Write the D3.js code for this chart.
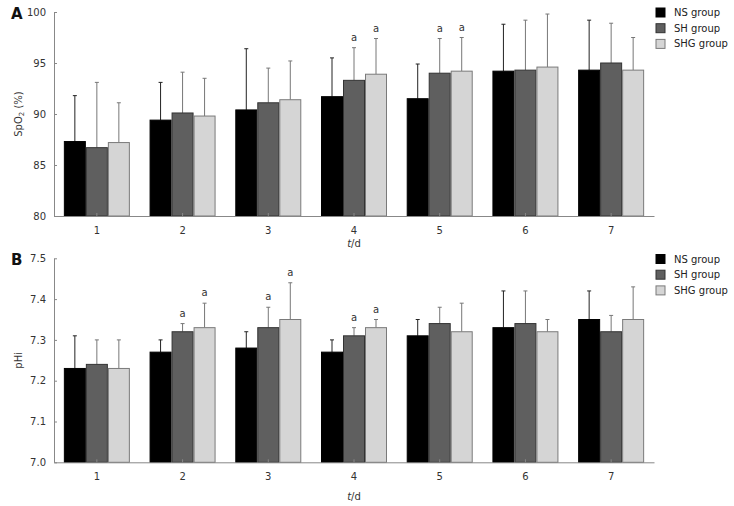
<!DOCTYPE html>
<html><head><meta charset="utf-8">
<script src="https://cdn.jsdelivr.net/npm/d3@7"></script>
<style>body{margin:0;background:#fff}svg{display:block}text{font-family:"DejaVu Sans",Verdana,sans-serif}</style>
</head><body><svg id="c" width="734" height="506"></svg>
<script>
const days = ["1","2","3","4","5","6","7"];
const groups = ["NS group","SH group","SHG group"];
const fills = ["#000000","#5f5f5f","#d5d5d5"];
const strokes = ["#000000","#333333","#7a7a7a"];
const errColors = ["#222222","#777777","#777777"];

// Panel A: SpO2 (%)
const spoNS = [87.3, 89.4, 90.4, 91.7, 91.5, 94.2, 94.3];
const spoSH = [86.7, 90.1, 91.1, 93.3, 94.0, 94.3, 95.0];
const spoSHG = [87.2, 89.8, 91.4, 93.9, 94.2, 94.6, 94.3];
const spoNSerr = [91.8, 93.1, 96.4, 95.5, 94.9, 98.8, 99.2];
const spoSHerr = [93.1, 94.1, 94.5, 96.5, 97.4, 99.2, 98.9];
const spoSHGerr = [91.1, 93.5, 95.2, 97.4, 97.5, 99.8, 97.5];
const spoSig = [[0,0,0],[0,0,0],[0,0,0],[0,1,1],[0,1,1],[0,0,0],[0,0,0]];
const spoTicks = [80, 85, 90, 95, 100];

// Panel B: pHi
const phNS = [7.23, 7.27, 7.28, 7.27, 7.31, 7.33, 7.35];
const phSH = [7.24, 7.32, 7.33, 7.31, 7.34, 7.34, 7.32];
const phSHG = [7.23, 7.33, 7.35, 7.33, 7.32, 7.32, 7.35];
const phNSerr = [7.31, 7.30, 7.32, 7.30, 7.35, 7.42, 7.42];
const phSHerr = [7.30, 7.34, 7.38, 7.33, 7.38, 7.42, 7.36];
const phSHGerr = [7.30, 7.39, 7.44, 7.35, 7.39, 7.35, 7.43];
const phSig = [[0,0,0],[0,1,1],[0,1,1],[0,1,1],[0,0,0],[0,0,0],[0,0,0]];
const phTicks = [7.0, 7.1, 7.2, 7.3, 7.4, 7.5];

const svg = d3.select("#c");

function panel(o){
  const g = svg.append("g");
  const x = d3.scaleBand().domain(days).range([54, 654]).paddingInner(0.23).paddingOuter(0.115);
  const xi = d3.scaleBand().domain(groups).range([0, x.bandwidth()]);
  const y = d3.scaleLinear().domain(o.domain).range([o.bottom, o.top]);
  const vals = [o.ns, o.sh, o.shg];
  const errs = [o.nsErr, o.shErr, o.shgErr];

  // y axis
  const ya = g.append("g").attr("transform","translate(54,0)")
    .call(d3.axisLeft(y).tickValues(o.ticks).tickFormat(o.fmt).tickSizeInner(-3).tickSizeOuter(0).tickPadding(8));
  ya.select(".domain").attr("stroke","#888");
  ya.selectAll(".tick line").attr("stroke","#888");
  ya.selectAll("text").attr("font-size",10).attr("fill","#333").attr("font-family","DejaVu Sans, sans-serif");

  // error bars (upper only)
  groups.forEach((gr, gi) => {
    days.forEach((d, di) => {
      const cx = x(d) + xi(gr) + xi.bandwidth()/2;
      g.append("line").attr("x1",cx).attr("x2",cx)
        .attr("y1",y(vals[gi][di])).attr("y2",y(errs[gi][di]))
        .attr("stroke",errColors[gi]).attr("stroke-width",1);
      g.append("line").attr("x1",cx-2).attr("x2",cx+2)
        .attr("y1",y(errs[gi][di])).attr("y2",y(errs[gi][di]))
        .attr("stroke",errColors[gi]).attr("stroke-width",1);
      if (o.sig[di][gi]) {
        g.append("text").attr("x",cx).attr("y",y(errs[gi][di]) - 7)
          .attr("text-anchor","middle").attr("font-size",10).attr("fill","#333").text("a");
      }
    });
  });

  // bars
  groups.forEach((gr, gi) => {
    g.selectAll(null).data(days).enter().append("rect")
      .attr("x", d => x(d) + xi(gr) + 0.5)
      .attr("width", xi.bandwidth() - 1)
      .attr("y", (d,i) => y(vals[gi][i]))
      .attr("height", (d,i) => o.bottom - y(vals[gi][i]))
      .attr("fill", fills[gi]).attr("stroke", strokes[gi]).attr("stroke-width",1);
  });

  // x axis
  const xa = g.append("g").attr("transform",`translate(0,${o.bottom})`)
    .call(d3.axisBottom(x).tickSizeInner(-3).tickSizeOuter(0).tickPadding(11));
  xa.select(".domain").attr("stroke","#888");
  xa.selectAll(".tick line").attr("stroke","#888");
  xa.selectAll("text").attr("font-size",10).attr("fill","#333").attr("font-family","DejaVu Sans, sans-serif");

  // x title
  const xt = g.append("text").attr("x",354).attr("y",o.xTitleY).attr("text-anchor","middle")
    .attr("font-size",10).attr("fill","#333");
  xt.append("tspan").attr("font-style","italic").text("t");
  xt.append("tspan").text("/d");

  // y title
  const yt = g.append("text").attr("transform",`translate(22,${(o.top+o.bottom)/2}) rotate(-90)`)
    .attr("text-anchor","middle").attr("font-size",10).attr("fill","#333");
  o.yTitle(yt);

  // panel letter
  g.append("text").attr("x",11).attr("y",o.top+7).attr("font-size",15).attr("font-weight","bold")
    .attr("fill","#111").text(o.letter);

  // legend
  groups.forEach((gr, gi) => {
    const ly = o.legendY + gi*15.7;
    g.append("rect").attr("x",656).attr("y",ly-4.5).attr("width",9).attr("height",9)
      .attr("fill",fills[gi]).attr("stroke",strokes[gi]);
    g.append("text").attr("x",674).attr("y",ly+3.5).attr("font-size",10).attr("fill","#222").text(gr);
  });
}

panel({
  domain:[80,100], top:12, bottom:216, ticks:spoTicks, fmt:d3.format("d"),
  ns:spoNS, sh:spoSH, shg:spoSHG, nsErr:spoNSerr, shErr:spoSHerr, shgErr:spoSHGerr, sig:spoSig,
  xTitleY:247, letter:"A", legendY:12.5,
  yTitle: t => { t.append("tspan").text("SpO"); t.append("tspan").attr("font-size",7).attr("dy",2).text("2"); t.append("tspan").attr("dy",-2).text(" (%)"); }
});
panel({
  domain:[7.0,7.5], top:258.3, bottom:462.3, ticks:phTicks, fmt:d3.format(".1f"),
  ns:phNS, sh:phSH, shg:phSHG, nsErr:phNSerr, shErr:phSHerr, shgErr:phSHGerr, sig:phSig,
  xTitleY:500, letter:"B", legendY:259,
  yTitle: t => { t.text("pHi"); }
});
</script></body></html>
